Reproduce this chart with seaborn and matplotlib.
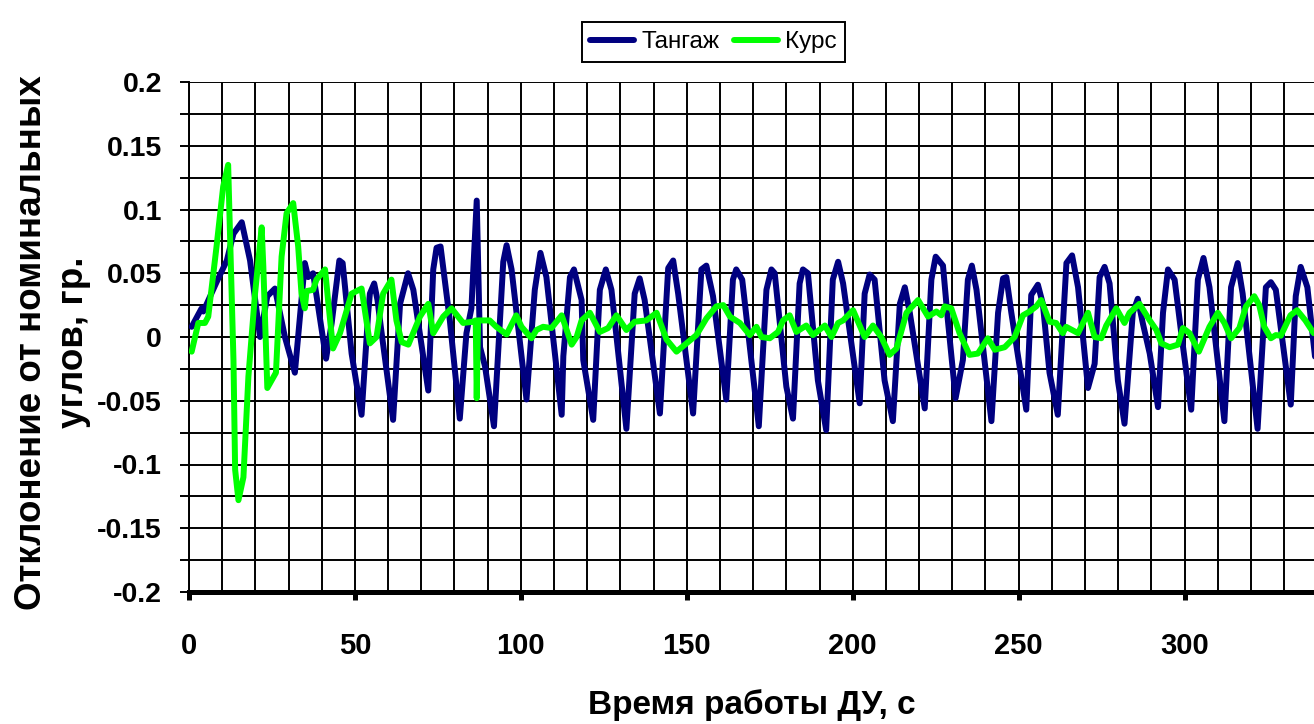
import matplotlib
matplotlib.use("Agg")
import matplotlib.pyplot as plt
from matplotlib.ticker import FixedLocator, MultipleLocator
import pandas as pd
import seaborn as sns

# ---------------- data ----------------
series_names = ["Тангаж", "Курс"]

pitch_t = [0.8, 3.8, 4.3, 8.3, 11.4, 13.4, 15.9, 18.4, 21.4, 23.6, 25.9, 27.4, 28.9, 31.9,
           34.9, 35.9, 37.4, 41.3, 43.0, 45.3, 46.3, 49.0, 52.0, 54.0, 54.5, 55.8, 56.8, 57.8,
           61.5, 63.6, 66.0, 67.6, 72.1, 73.6, 74.6, 75.8, 78.6, 81.6, 83.6, 85.1, 86.7, 87.7,
           89.2, 91.9, 94.7, 95.7, 97.2, 101.7, 104.2, 105.9, 107.7, 112.3, 112.8, 114.8, 116.0,
           118.3, 118.8, 121.8, 123.8, 125.6, 127.3, 131.8, 134.3, 135.8, 137.3, 141.9, 144.4,
           145.9, 147.4, 151.9, 154.4, 155.9, 157.9, 161.9, 163.9, 164.9, 166.7, 171.7, 174.0,
           175.5, 176.5, 180.0, 182.0, 184.0, 185.0, 186.5, 189.5, 192.0, 194.0, 195.6, 197.1,
           202.1, 203.6, 205.1, 206.6, 209.6, 212.1, 214.2, 215.7, 217.2, 221.7, 223.7, 225.0,
           227.2, 228.6, 231.0, 233.2, 234.7, 235.9, 237.3, 241.8, 243.8, 245.3, 246.3, 247.8,
           252.3, 253.8, 255.8, 257.3, 259.3, 261.8, 264.4, 266.1, 267.9, 270.9, 272.9, 274.4,
           275.9, 277.4, 279.9, 281.9, 284.4, 285.9, 287.4, 289.5, 292.0, 293.5, 295.0, 297.0,
           299.0, 302.0, 304.0, 305.7, 307.5, 312.0, 314.0, 316.0, 317.5, 322.0, 324.5, 326.0,
           327.5, 332.0, 333.5, 335.0, 337.0, 339.5]
pitch_v = [0.008, 0.0225, 0.020, 0.043, 0.060, 0.081, 0.090, 0.060, 0.0, 0.032, 0.038, 0.019, 0.0, -0.028,
           0.058, 0.047, 0.050, -0.017, 0.011, 0.060, 0.058, -0.013, -0.061, 0.019, 0.034, 0.042, 0.029, 0.008,
           -0.065, 0.026, 0.050, 0.037, -0.042, 0.053, 0.070, 0.071, 0.013, -0.064, 0.003, 0.0225, 0.107, -0.008,
           -0.023, -0.070, 0.059, 0.072, 0.053, -0.049, 0.037, 0.066, 0.047, -0.061, -0.015, 0.047, 0.053,
           0.029, -0.018, -0.065, 0.037, 0.053, 0.037, -0.072, 0.034, 0.046, 0.029, -0.060, 0.054,
           0.060, 0.034, -0.060, 0.053, 0.056, 0.032, -0.049, 0.045, 0.053, 0.045, -0.070, 0.037,
           0.053, 0.050, -0.039, -0.064, 0.042, 0.053, 0.050, -0.034, -0.073, 0.045, 0.059, 0.042,
           -0.052, 0.034, 0.049, 0.045, -0.034, -0.066, 0.026, 0.039, 0.019, -0.056, 0.045, 0.063,
           0.056, 0.015, -0.048, -0.018, 0.045, 0.056, 0.037, -0.066, 0.019, 0.046, 0.047, 0.019,
           -0.057, 0.033, 0.041, 0.026, -0.028, -0.061, 0.058, 0.064, 0.039, -0.040, -0.021, 0.047,
           0.055, 0.042, -0.034, -0.068, 0.019, 0.030, 0.011, -0.013, -0.055, 0.019, 0.053, 0.045,
           0.003, -0.057, 0.045, 0.062, 0.039, -0.066, 0.039, 0.058, 0.034, -0.072, 0.039, 0.043,
           0.037, -0.053, 0.032, 0.055, 0.039, -0.020]

yaw_t = [0.8, 2.8, 4.8, 5.8, 8.3, 10.3, 11.8, 12.3, 13.4, 13.9, 14.9, 16.4, 17.9, 19.9, 21.9,
         22.4, 23.6, 26.2, 27.9, 29.4, 31.4, 32.9, 33.9, 34.9, 35.4, 37.4, 38.4, 41.0, 41.9,
         43.4, 45.5, 49.0, 52.0, 54.5, 56.5, 58.5, 61.0, 62.5, 64.1, 66.1, 69.6, 72.1, 73.6,
         76.6, 79.1, 82.6, 85.6, 86.4, 86.7, 87.1, 90.6, 92.6, 95.7, 98.6, 100.2, 103.2, 104.7,
         106.7, 109.2, 112.3, 115.3, 116.8, 118.3, 120.8, 123.8, 126.3, 128.8, 131.8, 134.3,
         137.8, 140.9, 143.9, 146.9, 149.9, 152.9, 155.9, 158.9, 161.0, 163.0, 166.0, 169.0,
         171.0, 172.5, 175.0, 177.5, 179.0, 181.0, 183.0, 186.0, 188.0, 191.6, 193.6, 195.6,
         197.1, 200.1, 203.6, 206.1, 208.6, 211.1, 213.2, 216.2, 219.7, 222.7, 225.2, 226.7,
         227.7, 229.7, 232.2, 235.2, 237.7, 240.7, 242.8, 245.8, 248.8, 251.3, 253.3, 255.3,
         256.8, 259.3, 261.3, 263.3, 264.3, 267.9, 270.9, 272.9, 274.9, 276.4, 279.4, 281.9,
         283.4, 286.4, 289.5, 291.5, 293.0, 295.5, 298.0, 299.5, 301.5, 304.3, 307.5, 310.0,
         312.0, 314.0, 316.5, 318.5, 321.0, 322.5, 324.0, 326.0, 327.5, 329.0, 331.9, 333.9,
         336.4, 338.9]
yaw_v = [-0.0115, 0.011, 0.011, 0.016, 0.071, 0.118, 0.135, 0.086, -0.018, -0.104, -0.128, -0.110, -0.031, 0.034, 0.086,
         0.055, -0.040, -0.028, 0.063, 0.097, 0.105, 0.071, 0.034, 0.0225, 0.036, 0.037, 0.045, 0.053, 0.029,
         -0.009, 0.003, 0.034, 0.038, -0.005, 0.0, 0.034, 0.045, 0.013, -0.004, -0.006, 0.016, 0.026, 0.003,
         0.016, 0.0225, 0.011, 0.012, 0.013, -0.048, 0.013, 0.013, 0.008, 0.002, 0.017, 0.008, -0.001, 0.0055,
         0.008, 0.007, 0.017, -0.006, 0.0, 0.013, 0.019, 0.004, 0.007, 0.017, 0.0055, 0.012,
         0.013, 0.019, -0.002, -0.0115, -0.005, 0.0015, 0.0145, 0.024, 0.025, 0.016, 0.011, 0.0015,
         0.008, 0.0, -0.001, 0.004, 0.013, 0.017, 0.004, 0.009, 0.0015, 0.009, 0.0, 0.011,
         0.013, 0.021, 0.0, 0.009, 0.0, -0.014, -0.009, 0.019, 0.029, 0.016, 0.020, 0.017,
         0.024, 0.0225, 0.003, -0.014, -0.013, -0.001, -0.010, -0.008, 0.0, 0.017, 0.020, 0.024,
         0.029, 0.012, 0.011, 0.003, 0.008, 0.003, 0.019, 0.0, -0.001, 0.009, 0.0225, 0.011,
         0.019, 0.026, 0.013, 0.0055, -0.005, -0.008, -0.006, 0.007, 0.003, -0.0115, 0.008, 0.019,
         0.011, -0.001, 0.007, 0.024, 0.032, 0.025, 0.008, -0.001, 0.0015, 0.001, 0.017, 0.021,
         0.013, 0.003]

x_ticks = [0, 50, 100, 150, 200, 250, 300]
y_ticks = [-0.2, -0.15, -0.1, -0.05, 0.0, 0.05, 0.1, 0.15, 0.2]
y_tick_labels = ["-0.2", "-0.15", "-0.1", "-0.05", "0", "0.05", "0.1", "0.15", "0.2"]
x_label = "Время работы ДУ, с"
y_label = "Отклонение от номинальных\nуглов, гр."
colors = ["#000080", "#00FF00"]

# ---------------- style ----------------
sns.set_theme(style="white")
fam = ["Liberation Sans", "DejaVu Sans"]
plt.rcParams["font.family"] = fam

W, H = 1314, 724
fig = plt.figure(figsize=(W / 100, H / 100), dpi=100)
fig.patch.set_facecolor("white")
ax = fig.add_axes([189 / W, (H - 592) / H, (W - 189) / W, 510 / H])
ax.set_facecolor("white")

pitch_df = pd.DataFrame({"t": pitch_t, "v": pitch_v})
yaw_df = pd.DataFrame({"t": yaw_t, "v": yaw_v})

sns.lineplot(data=pitch_df, x="t", y="v", ax=ax, color=colors[0], linewidth=4.3,
             estimator=None, sort=False, label=series_names[0],
             solid_joinstyle="round", solid_capstyle="round", zorder=3)
sns.lineplot(data=yaw_df, x="t", y="v", ax=ax, color=colors[1], linewidth=4.3,
             estimator=None, sort=False, label=series_names[1],
             solid_joinstyle="round", solid_capstyle="round", zorder=4)

ax.set_xlim(0, 339)
ax.set_ylim(-0.2, 0.2)

ax.xaxis.set_major_locator(FixedLocator(x_ticks))
ax.xaxis.set_minor_locator(MultipleLocator(10))
ax.set_yticks(y_ticks)
ax.set_yticklabels(y_tick_labels)
ax.yaxis.set_minor_locator(MultipleLocator(0.025))

ax.grid(True, which="both", color="black", linewidth=1.4)
ax.set_axisbelow(True)

for s in ["top", "right"]:
    ax.spines[s].set_visible(False)
ax.spines["left"].set_color("black")
ax.spines["left"].set_linewidth(1.4)
ax.spines["bottom"].set_color("black")
ax.spines["bottom"].set_linewidth(3.6)
ax.spines["bottom"].set_zorder(5)

ax.tick_params(axis="y", which="both", left=True, direction="out", length=6.5,
               width=1.4, color="black", pad=13)
ax.tick_params(axis="x", which="major", bottom=True, direction="out", length=6,
               width=3.6, color="black", pad=23)
ax.tick_params(axis="x", which="minor", bottom=False, length=0)

for lab in ax.get_yticklabels():
    lab.set_fontsize(20.5)
    lab.set_fontweight("bold")
    lab.set_color("black")
for lab in ax.get_xticklabels():
    lab.set_fontsize(21)
    lab.set_fontweight("bold")
    lab.set_color("black")

ax.set_xlabel(x_label, fontsize=24, fontweight="bold", color="black")
ax.xaxis.set_label_coords(0.5, -0.19)
ax.set_ylabel(y_label, fontsize=26.5, fontweight="bold", color="black",
              linespacing=1.25)
ax.yaxis.set_label_coords(-0.087, 0.49)

handles, labels = ax.get_legend_handles_labels()
if ax.get_legend() is not None:
    ax.get_legend().remove()
leg = fig.legend(handles, labels, loc="center", bbox_to_anchor=(713.5 / W, 1 - 42 / H),
                 ncol=2, frameon=True, fancybox=False, framealpha=1, edgecolor="black",
                 fontsize=17.5, handlelength=1.8, handletextpad=0.3, columnspacing=0.6,
                 borderpad=0.35, borderaxespad=0)
leg.get_frame().set_linewidth(1.4)
for t in leg.get_texts():
    t.set_color("black")

fig.savefig("out.png", dpi=100, facecolor="white")
